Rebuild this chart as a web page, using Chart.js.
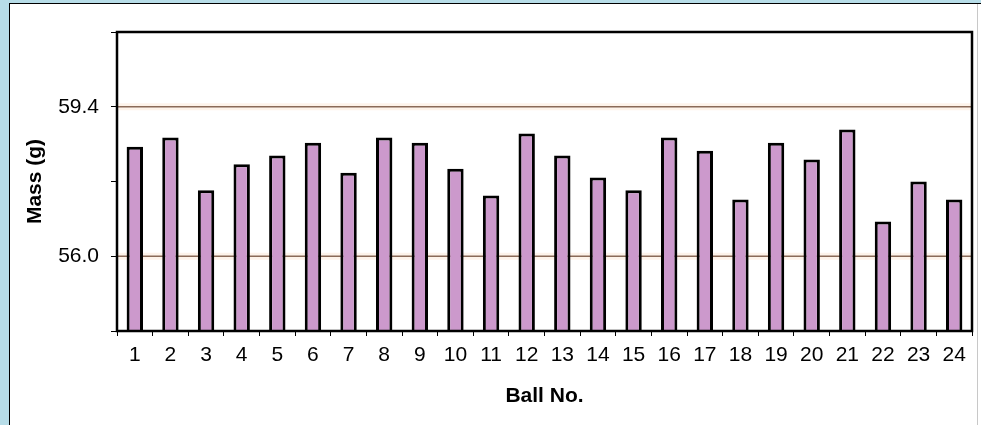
<!DOCTYPE html>
<html>
<head>
<meta charset="utf-8">
<script src="https://cdn.jsdelivr.net/npm/chart.js@4/dist/chart.umd.min.js"></script>
<style>
  html, body { margin:0; padding:0; width:981px; height:425px; overflow:hidden; background:#ffffff; }
  #frameTop { position:absolute; left:0; top:0; width:981px; height:3px; background:#b7dde8; }
  #frameLeft { position:absolute; left:0; top:0; width:9px; height:425px; background:#b7dde8; }
  #lineTop { position:absolute; left:9px; top:3px; width:972px; height:1px; background:#000; }
  #lineLeft { position:absolute; left:9px; top:3px; width:1px; height:422px; background:#000; }
  #lineRight { position:absolute; left:977px; top:4px; width:1px; height:421px; background:#c8c8c8; }
  #wrap { position:absolute; left:10px; top:4px; width:967px; height:421px; }
</style>
</head>
<body>
<div id="frameTop"></div><div id="frameLeft"></div>
<div id="lineTop"></div><div id="lineLeft"></div><div id="lineRight"></div>
<div id="wrap"><canvas id="c" width="967" height="421"></canvas></div>
<script>
const categories = ['1','2','3','4','5','6','7','8','9','10','11','12','13','14','15','16','17','18','19','20','21','22','23','24'];
const massValues = [58.49, 58.70, 57.50, 58.09, 58.29, 58.58, 57.90, 58.70, 58.58, 57.99, 57.38, 58.79,
                    58.29, 57.79, 57.50, 58.70, 58.40, 57.29, 58.58, 58.20, 58.88, 56.79, 57.70, 57.29];
const yTickValues = [54.3, 56.0, 57.7, 59.4, 61.1];
const yTickLabels = ['', '56.0', '', '59.4', ''];
const limitValues = [56.0, 59.4];

Chart.defaults.font.family = '"Liberation Sans", Arial, sans-serif';
Chart.defaults.color = '#000';

const plotBorder = {
  id: 'plotBorder',
  beforeDatasetsDraw(chart) {
    const ctx = chart.ctx, y = chart.scales.y, a = chart.chartArea;
    ctx.save();
    limitValues.forEach(v => {
      const py = y.getPixelForValue(v);
      ctx.strokeStyle = 'rgba(250,215,185,0.3)';
      ctx.lineWidth = 7;
      ctx.beginPath(); ctx.moveTo(a.left, py); ctx.lineTo(a.right, py); ctx.stroke();
      ctx.strokeStyle = '#8a6a58';
      ctx.lineWidth = 1.6;
      ctx.beginPath(); ctx.moveTo(a.left, py); ctx.lineTo(a.right, py); ctx.stroke();
    });
    ctx.restore();
  },
  afterDraw(chart) {
    const ctx = chart.ctx, a = chart.chartArea;
    ctx.save();
    ctx.strokeStyle = '#000';
    ctx.lineWidth = 2.5;
    ctx.strokeRect(a.left, a.top, a.right - a.left, a.bottom - a.top);
    ctx.restore();
  }
};

new Chart(document.getElementById('c'), {
  type: 'bar',
  data: {
    labels: categories,
    datasets: [{
      data: massValues,
      backgroundColor: '#cc99cc',
      borderColor: '#000',
      borderWidth: 3,
      barPercentage: 0.46,
      categoryPercentage: 1.0
    }]
  },
  options: {
    responsive: false,
    animation: false,
    devicePixelRatio: 1,
    layout: { padding: { top: 28, right: 5, left: 0, bottom: 0 } },
    plugins: { legend: { display: false }, tooltip: { enabled: false } },
    scales: {
      x: {
        offset: true,
        grid: { offset: true, drawOnChartArea: false, drawTicks: true, tickLength: 5, tickColor: '#000', lineWidth: 1 },
        border: { display: true, color: '#000', width: 2 },
        ticks: { font: { size: 21 }, padding: 7, maxRotation: 0, autoSkip: false },
        title: { display: true, text: 'Ball No.', font: { size: 21, weight: 'bold' }, padding: { top: 0, bottom: 16 } },
        afterFit(s) { s.height = 94; }
      },
      y: {
        min: 54.3, max: 61.1,
        afterBuildTicks(s) { s.ticks = yTickValues.map(v => ({ value: v })); },
        grid: { color: 'rgba(0,0,0,0)', tickColor: '#000', tickLength: 6, drawTicks: true },
        border: { display: true, color: '#000', width: 2 },
        ticks: {
          font: { size: 21 }, padding: 12,
          callback(value, index) { return yTickLabels[index]; }
        },
        title: { display: true, text: 'Mass (g)', font: { size: 21, weight: 'bold' }, padding: { top: 13, bottom: 0 } },
        afterFit(s) { s.width = 107; }
      }
    }
  },
  plugins: [plotBorder]
});
</script>
</body>
</html>
